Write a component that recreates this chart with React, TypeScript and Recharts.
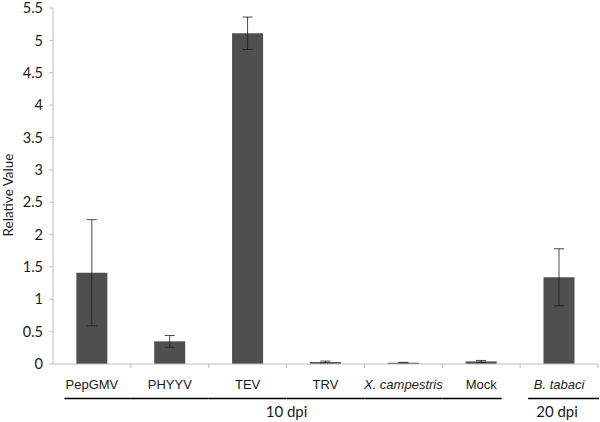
import React from 'react';
import { BarChart, Bar, XAxis, YAxis, ErrorBar, Label } from 'recharts';

const categories = ['PepGMV', 'PHYYV', 'TEV', 'TRV', 'X. campestris', 'Mock', 'B. tabaci'];
const values = [1.41, 0.35, 5.11, 0.03, 0.02, 0.04, 1.34];
const errors = [0.82, 0.09, 0.25, 0.015, 0.006, 0.015, 0.44];
const italicLabels = [false, false, false, false, true, false, true];
const groupOf = [0, 0, 0, 0, 0, 0, 1];
const groupLabels = ['10 dpi', '20 dpi'];
const yTicks = [0, 0.5, 1, 1.5, 2, 2.5, 3, 3.5, 4, 4.5, 5, 5.5];

const data = categories.map((c, i) => ({ name: c, value: values[i], err: errors[i] }));

const W = 600;
const H = 422;
const LEFT = 53;
const RIGHT = 2;
const HALF_BAND = (W - LEFT - RIGHT) / categories.length / 2;

const CatTick = (props: any) => {
  const { x, y, payload } = props;
  const i = categories.indexOf(payload.value);
  const g = groupOf[i];
  const firstOfGroup = groupOf.indexOf(g);
  const lastOfGroup = groupOf.lastIndexOf(g);
  let x1 = x - HALF_BAND;
  let x2 = x + HALF_BAND;
  if (g === 0) {
    if (i === firstOfGroup) x1 = x - 27.5;
    if (i === lastOfGroup) x2 = x + 20.5;
  } else {
    if (i === firstOfGroup) x1 = x - 31;
    if (i === lastOfGroup) x2 = x + 40;
  }
  const count = lastOfGroup - firstOfGroup + 1;
  const midIdx = firstOfGroup + Math.floor((count - 1) / 2);
  const showGroup = i === midIdx;
  const groupX = count % 2 === 0 ? x + HALF_BAND : x - 2;
  return (
    <g>
      <line x1={x + HALF_BAND} x2={x + HALF_BAND} y1={y} y2={y + 4} stroke="#bdbdbd" strokeWidth={1} />
      <text
        x={x}
        y={y + 25}
        textAnchor="middle"
        fontFamily="'Liberation Sans', Arial, sans-serif"
        fontSize={13}
        fontStyle={italicLabels[i] ? 'italic' : 'normal'}
        fill="#1a1a1a"
      >
        {payload.value}
      </text>
      <line x1={x1} x2={x2} y1={y + 34.5} y2={y + 34.5} stroke="#000" strokeWidth={1.3} />
      {showGroup && (
        <text
          x={groupX}
          y={y + 53}
          textAnchor="middle"
          fontFamily="Lato, 'Open Sans', sans-serif"
          fontSize={15}
          fill="#1a1a1a"
        >
          {groupLabels[g]}
        </text>
      )}
    </g>
  );
};

const YLabel = (props: any) => {
  const vb = props.viewBox || { x: 0, y: 8, width: 53, height: 356 };
  const cx = 13;
  const cy = vb.y + vb.height / 2 + 9;
  return (
    <text
      x={cx}
      y={cy}
      transform={`rotate(-90, ${cx}, ${cy})`}
      textAnchor="middle"
      fontFamily="Lato, 'Open Sans', sans-serif"
      fontSize={13.5}
      fill="#1a1a1a"
    >
      Relative Value
    </text>
  );
};

export default function App() {
  return (
    <div style={{ position: 'absolute', left: 0, top: 0, width: W, height: H, background: '#fff' }}>
      <BarChart
        width={W}
        height={H}
        data={data}
        margin={{ top: 8, right: RIGHT, left: 0, bottom: 0 }}
        barCategoryGap="30%"
      >
        <XAxis
          dataKey="name"
          interval={0}
          axisLine={{ stroke: '#bdbdbd' }}
          tickLine={false}
          tickSize={0}
          tickMargin={0}
          height={58}
          tick={<CatTick />}
        />
        <YAxis
          domain={[0, 5.5]}
          ticks={yTicks}
          interval={0}
          width={LEFT}
          axisLine={{ stroke: '#bdbdbd' }}
          tickLine={{ stroke: '#bdbdbd' }}
          tickSize={4}
          tickMargin={6}
          tick={{ fontFamily: "Lato, 'Open Sans', sans-serif", fontSize: 14.5, fill: '#1a1a1a' }}
        >
          <Label content={<YLabel />} />
        </YAxis>
        <Bar dataKey="value" fill="#4f4f4f" isAnimationActive={false}>
          <ErrorBar dataKey="err" width={5} stroke="#1e1e1e" strokeWidth={0.8} direction="y" />
        </Bar>
      </BarChart>
    </div>
  );
}
